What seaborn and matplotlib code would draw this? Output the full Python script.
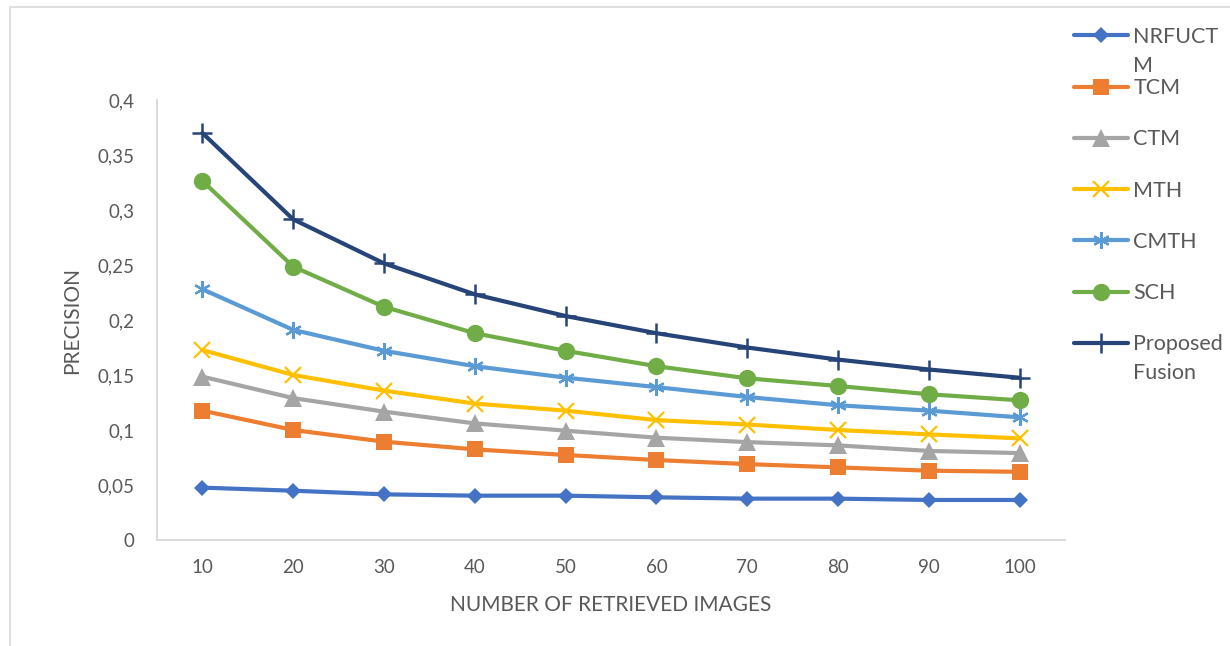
import numpy as np
import pandas as pd
import matplotlib
matplotlib.use("Agg")
import matplotlib.pyplot as plt
from matplotlib.patches import Rectangle
import seaborn as sns

# Number of retrieved images (categorical x axis)
retrieved = ["10", "20", "30", "40", "50", "60", "70", "80", "90", "100"]

# Precision per method
nrfuctm = [0.0476, 0.0448, 0.0415, 0.0403, 0.0403, 0.0388, 0.0376, 0.0376, 0.0364, 0.0364]
tcm = [0.1176, 0.1000, 0.0894, 0.0824, 0.0773, 0.0727, 0.0690, 0.0660, 0.0630, 0.0620]
ctm = [0.1485, 0.1290, 0.1167, 0.1060, 0.0994, 0.0930, 0.0890, 0.0860, 0.0810, 0.0790]
mth = [0.1727, 0.1500, 0.1358, 0.1240, 0.1176, 0.1090, 0.1050, 0.1000, 0.0960, 0.0924]
cmth = [0.2280, 0.1910, 0.1720, 0.1580, 0.1476, 0.1390, 0.1300, 0.1225, 0.1176, 0.1115]
sch = [0.3264, 0.2485, 0.2120, 0.1880, 0.1720, 0.1580, 0.1470, 0.1400, 0.1325, 0.1270]
proposed = [0.3700, 0.2915, 0.2515, 0.2233, 0.2036, 0.1880, 0.1750, 0.1640, 0.1550, 0.1475]

series_names = ["NRFUCTM", "TCM", "CTM", "MTH", "CMTH", "SCH", "Proposed Fusion"]
series_values = [nrfuctm, tcm, ctm, mth, cmth, sch, proposed]

y_ticks = [0, 0.05, 0.1, 0.15, 0.2, 0.25, 0.3, 0.35, 0.4]
y_tick_labels = ["0", "0,05", "0,1", "0,15", "0,2", "0,25", "0,3", "0,35", "0,4"]

# Office-style colours and markers
styles = {
    "NRFUCTM": dict(color="#4472C4", marker="D", markersize=8.5, mew=0),
    "TCM": dict(color="#ED7D31", marker="s", markersize=11.5, mew=0),
    "CTM": dict(color="#A5A5A5", marker="^", markersize=12.5, mew=0),
    "MTH": dict(color="#FFC000", marker="x", markersize=11.5, mew=1.6),
    "CMTH": dict(color="#5B9BD5", marker=(6, 2, 0), markersize=12, mew=1.6),
    "SCH": dict(color="#70AD47", marker="o", markersize=12.5, mew=0),
    "Proposed Fusion": dict(color="#264478", marker="+", markersize=14, mew=1.8),
}

sns.set_style("white")
plt.rcParams["font.family"] = ["Lato", "DejaVu Sans"]
text_color = "#595959"
axis_color = "#D9D9D9"

W, H = 1230, 646
fig = plt.figure(figsize=(W / 100, H / 100), dpi=100)
ax = fig.add_axes([157 / W, 1 - 540 / H, (1065 - 157) / W, (540 - 100) / H])

df = pd.DataFrame({"retrieved": retrieved})
for name, vals in zip(series_names, series_values):
    st = styles[name]
    sns.lineplot(
        x=df["retrieved"], y=vals, ax=ax, label=name,
        color=st["color"], linewidth=3.0, marker=st["marker"],
        markersize=st["markersize"], markeredgewidth=st["mew"],
        markeredgecolor=st["color"], markerfacecolor=st["color"],
        sort=False,
    )

ax.set_xlim(-0.5, len(retrieved) - 0.5)
ax.set_ylim(0, 0.4)
ax.set_yticks(y_ticks)
ax.set_yticklabels(y_tick_labels)
ax.tick_params(axis="both", length=0, labelsize=13.5, labelcolor=text_color)
ax.tick_params(axis="y", pad=16)
ax.tick_params(axis="x", pad=14)
for side in ("top", "right"):
    ax.spines[side].set_visible(False)
for side in ("left", "bottom"):
    ax.spines[side].set_color(axis_color)
    ax.spines[side].set_linewidth(1.4)
ax.grid(False)

ax.set_xlabel("NUMBER OF RETRIEVED IMAGES", fontsize=15, color=text_color)
ax.set_ylabel("PRECISION", fontsize=15, color=text_color)
ax.xaxis.set_label_coords(0.5, -0.125)
ax.yaxis.set_label_coords(-0.083, 0.5)

# Legend on the right; long names wrap onto a second line
handles, _ = ax.get_legend_handles_labels()
ax.get_legend().remove()
first_lines = ["NRFUCT", "TCM", "CTM", "MTH", "CMTH", "SCH", "Proposed"]
second_lines = {0: "M", 6: "Fusion"}
leg = fig.legend(
    handles, first_lines, loc="upper left",
    bbox_to_anchor=(1074 / W, 1 - 27 / H), frameon=False,
    fontsize=15.5, labelcolor=text_color, handlelength=2.5,
    handletextpad=0.25, labelspacing=1.45, borderpad=0, borderaxespad=0,
)

# Place the wrapped part of each long name under its first line
fig.canvas.draw()
to_fig = fig.transFigure.inverted()
texts = leg.get_texts()
for idx, rest in second_lines.items():
    bb = texts[idx].get_window_extent()
    fx, fy = to_fig.transform((bb.x0, 0.5 * (bb.y0 + bb.y1) - 28.5))
    fig.text(fx, fy, rest, ha="left", va="center",
             fontsize=15.5, color=text_color)

# Chart-area border
fig.add_artist(Rectangle((10 / W, -0.05), 1.2, 1.05 - 7 / H,
                         transform=fig.transFigure, fill=False,
                         edgecolor=axis_color, linewidth=1.2, clip_on=False))

fig.savefig("out.png", dpi=100)
